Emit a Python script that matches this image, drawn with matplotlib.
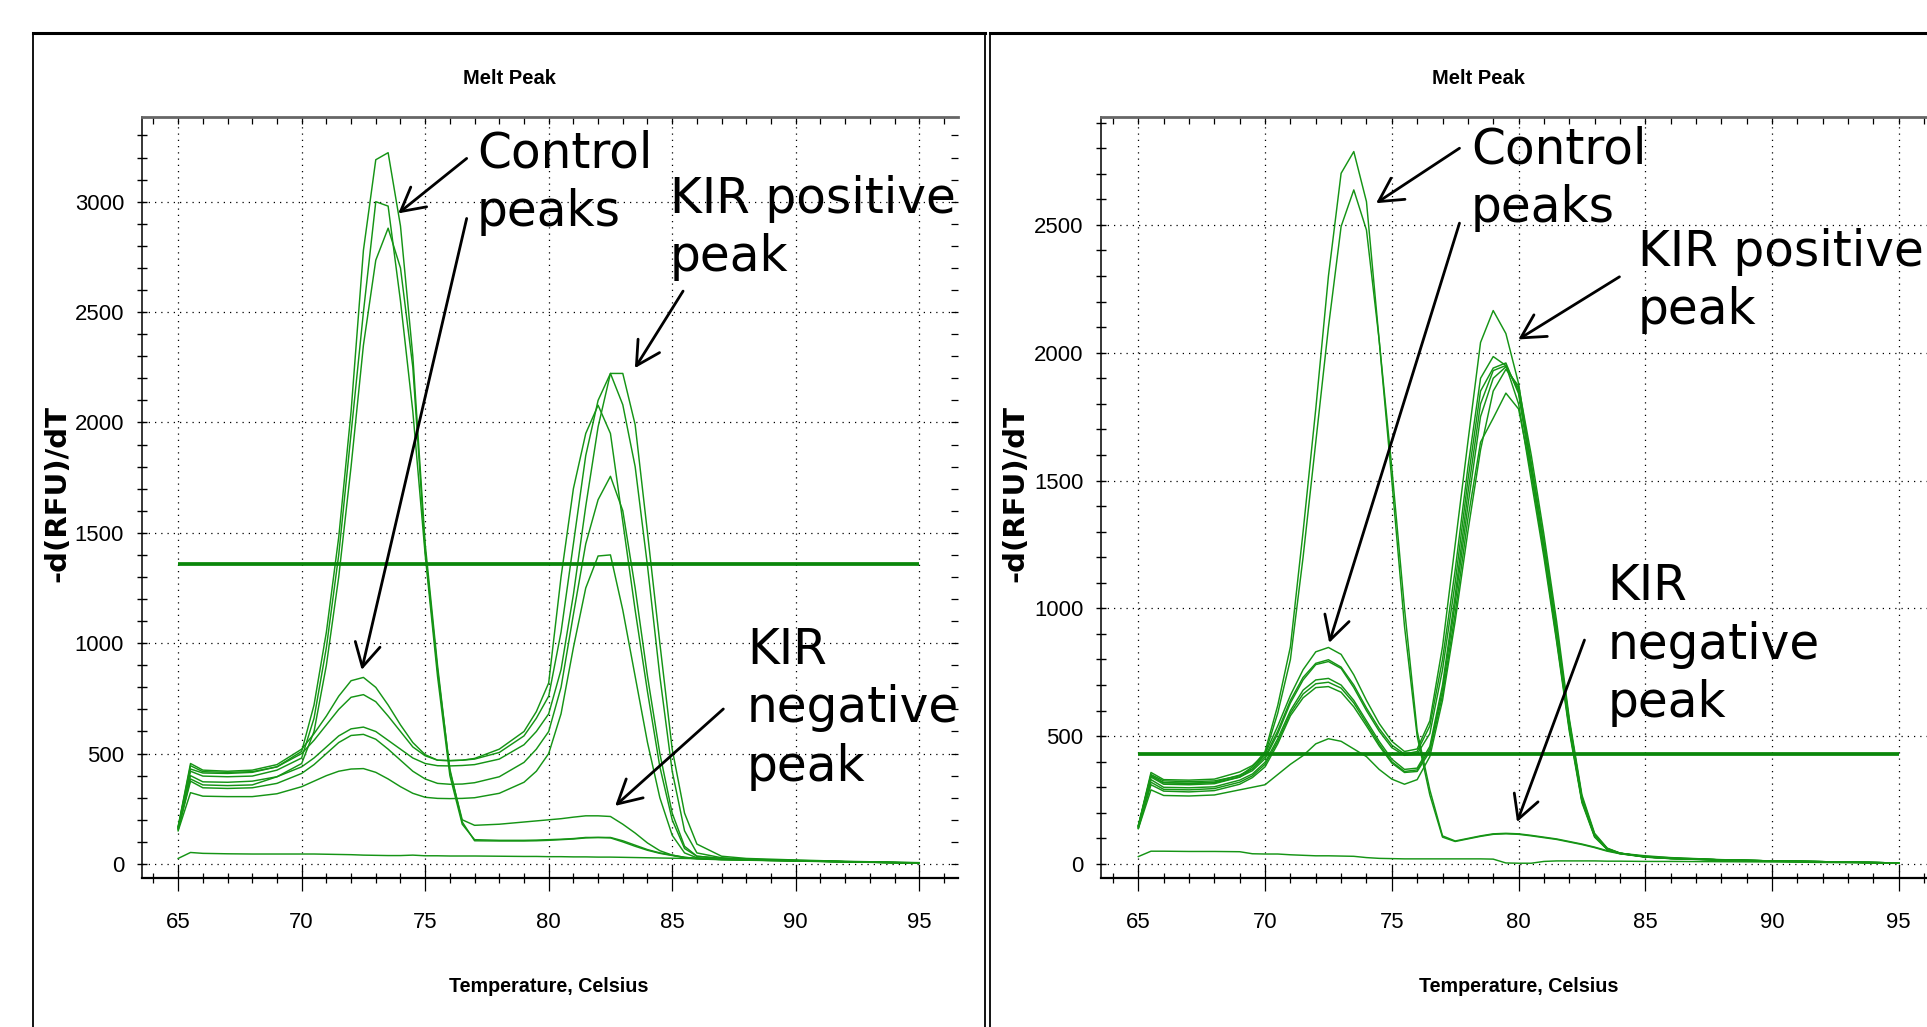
import matplotlib
matplotlib.use("Agg")
import matplotlib.pyplot as plt
from matplotlib.lines import Line2D
from matplotlib.ticker import MultipleLocator
from matplotlib import font_manager as fm

# ---------------- data ----------------
temps_left = [65.0, 65.5, 66.0, 67.0, 68.0, 69.0, 70.0, 70.5, 71.0, 71.5, 72.0, 72.5, 73.0, 73.5,
              74.0, 74.5, 75.0, 75.5, 76.0, 76.5, 77.0, 78.0, 79.0, 79.5, 80.0, 80.5, 81.0, 81.5,
              82.0, 82.5, 83.0, 83.5, 84.0, 84.5, 85.0, 85.5, 86.0, 87.0, 88.0, 90.0, 92.0, 95.0]

left_pos_1 = [170, 455, 425, 420, 425, 450, 520, 590, 670, 760, 830, 845, 800, 720, 630, 550, 495, 470, 468, 470,
              478, 520, 600, 690, 820, 1300, 1700, 1950, 2078, 1950, 1550, 1150, 780, 440, 200, 70, 35, 25, 20, 15, 10, 4]
left_pos_2 = [165, 430, 412, 410, 415, 440, 500, 560, 630, 700, 755, 767, 735, 670, 600, 530, 490, 470, 468, 470,
              475, 505, 580, 660, 760, 1050, 1450, 1850, 2100, 2222, 2080, 1800, 1350, 850, 420, 150, 50, 28, 22, 15, 10, 4]
left_pos_3 = [160, 400, 372, 370, 375, 395, 440, 480, 530, 580, 612, 620, 600, 560, 520, 480, 455, 445, 444, 446,
              450, 475, 540, 600, 680, 880, 1220, 1620, 1980, 2222, 2222, 1990, 1500, 1000, 520, 230, 90, 35, 25, 18, 12, 6]
left_pos_4 = [155, 375, 345, 342, 345, 365, 410, 450, 500, 550, 582, 587, 565, 520, 470, 420, 385, 365, 361, 362,
              368, 395, 460, 520, 600, 800, 1130, 1450, 1650, 1756, 1600, 1250, 850, 500, 230, 80, 35, 25, 20, 15, 10, 5]
left_pos_5 = [150, 323, 307, 305, 305, 318, 350, 375, 400, 420, 430, 432, 415, 385, 350, 320, 302, 297, 296, 297,
              300, 320, 370, 420, 500, 680, 980, 1250, 1395, 1400, 1150, 850, 550, 300, 130, 50, 28, 22, 18, 14, 10, 5]
left_neg_1 = [168, 445, 418, 415, 418, 440, 510, 720, 1050, 1480, 2050, 2780, 3190, 3222, 2890, 2300, 1450, 900, 420, 200,
              175, 180, 190, 195, 200, 205, 212, 218, 218, 215, 180, 140, 95, 60, 40, 30, 25, 20, 18, 14, 10, 4]
left_neg_2 = [163, 420, 398, 395, 398, 425, 480, 660, 980, 1400, 1950, 2500, 3000, 2980, 2550, 2050, 1400, 850, 400, 180,
              110, 107, 107, 108, 110, 112, 115, 120, 120, 120, 105, 85, 65, 50, 40, 30, 25, 20, 18, 14, 10, 4]
left_neg_3 = [158, 385, 358, 355, 358, 395, 455, 600, 900, 1300, 1800, 2350, 2735, 2880, 2700, 2250, 1420, 880, 430, 190,
              105, 104, 104, 105, 107, 110, 113, 118, 120, 118, 100, 80, 62, 48, 38, 28, 23, 19, 17, 13, 9, 4]
left_ntc = [25, 52, 48, 46, 45, 45, 45, 45, 44, 43, 42, 40, 39, 38, 38, 40, 37, 37, 36, 36,
            36, 35, 34, 34, 33, 33, 32, 32, 31, 31, 30, 29, 28, 27, 26, 25, 24, 22, 20, 16, 11, 3]
left_threshold = 1357

temps_right = [65.0, 65.5, 66.0, 67.0, 68.0, 69.0, 69.5, 70.0, 70.5, 71.0, 71.5, 72.0, 72.5, 73.0,
               73.5, 74.0, 74.5, 75.0, 75.5, 76.0, 76.5, 77.0, 77.5, 78.0, 78.5, 79.0, 79.5, 80.0,
               80.5, 81.0, 81.5, 82.0, 82.5, 83.0, 83.5, 84.0, 85.0, 86.0, 88.0, 90.0, 92.0, 95.0]

right_pos_1 = [150, 358, 330, 328, 332, 360, 385, 430, 540, 660, 760, 830, 847, 820, 740, 640, 550, 480, 440, 450,
               560, 850, 1250, 1650, 2040, 2165, 2075, 1880, 1560, 1260, 920, 560, 260, 115, 60, 42, 28, 22, 16, 12, 9, 4]
right_pos_2 = [148, 345, 318, 316, 320, 348, 372, 420, 520, 640, 730, 785, 799, 770, 700, 610, 530, 465, 430, 440,
               540, 800, 1150, 1550, 1900, 1985, 1950, 1800, 1500, 1200, 870, 520, 240, 105, 56, 40, 27, 21, 15, 11, 8, 4]
right_pos_3 = [146, 340, 312, 310, 314, 340, 365, 412, 510, 630, 720, 780, 792, 765, 690, 600, 520, 455, 425, 430,
               510, 760, 1100, 1500, 1850, 1940, 1960, 1840, 1530, 1220, 880, 530, 245, 108, 57, 41, 27, 21, 15, 11, 8, 4]
right_pos_4 = [144, 330, 300, 298, 302, 328, 352, 398, 490, 600, 680, 720, 726, 700, 640, 560, 480, 410, 370, 375,
               460, 700, 1050, 1450, 1800, 1930, 1950, 1850, 1550, 1240, 900, 540, 250, 110, 58, 42, 28, 22, 16, 12, 9, 4]
right_pos_5 = [142, 320, 292, 290, 295, 320, 345, 390, 480, 590, 665, 705, 711, 688, 630, 550, 470, 400, 362, 368,
               450, 680, 1020, 1400, 1750, 1900, 1945, 1860, 1570, 1260, 920, 555, 260, 115, 60, 42, 28, 22, 16, 12, 9, 4]
right_pos_6 = [140, 310, 285, 282, 287, 312, 338, 380, 470, 580, 650, 690, 694, 672, 615, 540, 462, 395, 358, 362,
               440, 660, 980, 1350, 1650, 1744, 1842, 1780, 1530, 1230, 890, 535, 250, 110, 58, 42, 28, 22, 16, 12, 9, 4]
right_pos_7 = [138, 290, 268, 266, 270, 290, 300, 310, 350, 390, 424, 470, 490, 480, 450, 420, 370, 332, 312, 330,
               420, 640, 950, 1300, 1620, 1850, 1935, 1870, 1600, 1290, 950, 570, 270, 120, 62, 43, 28, 22, 16, 12, 9, 4]
right_neg_1 = [150, 350, 325, 322, 325, 345, 380, 440, 620, 850, 1300, 1780, 2300, 2702, 2787, 2591, 2050, 1550, 1000, 520,
               290, 110, 90, 100, 110, 118, 120, 118, 112, 105, 98, 88, 78, 66, 52, 42, 32, 25, 17, 12, 9, 4]
right_neg_2 = [148, 345, 318, 315, 318, 340, 372, 430, 590, 800, 1200, 1650, 2100, 2494, 2637, 2480, 2050, 1500, 930, 500,
               270, 105, 88, 98, 108, 116, 118, 116, 110, 103, 96, 86, 76, 64, 50, 40, 30, 24, 16, 12, 9, 4]
right_ntc = [29, 50, 50, 49, 49, 48, 40, 39, 39, 36, 34, 32, 32, 31, 30, 25, 22, 21, 20, 20,
             20, 20, 20, 20, 20, 19, 4, 3, 3, 10, 12, 12, 12, 12, 11, 11, 10, 10, 9, 8, 6, 3]
right_threshold = 430

x_ticks = [65, 70, 75, 80, 85, 90, 95]
left_y_ticks = [0, 500, 1000, 1500, 2000, 2500, 3000]
right_y_ticks = [0, 500, 1000, 1500, 2000, 2500]

# ---------------- fonts ----------------
_names = {f.name for f in fm.fontManager.ttflist}
if "Liberation Sans Narrow" in _names:
    NARROW, NSCALE = "Liberation Sans Narrow", 1.0
else:
    NARROW, NSCALE = "Liberation Sans", 0.84
plt.rcParams["font.family"] = [NARROW, "DejaVu Sans"]
ANNO_FONT = ["DejaVu Sans"]

W, H = 1927, 1027
fig = plt.figure(figsize=(W / 100, H / 100), dpi=100)
fig.patch.set_facecolor("white")


def fx(x):
    return x / W


def fy(y):
    return 1 - y / H


# ---------------- panel frames ----------------
frame_lines = [
    ([33, 33], [33, H + 5], 1.3),
    ([33, 985], [33, 33], 2.2),
    ([984.5, 984.5], [33, H + 5], 1.3),
    ([989.5, 989.5], [33, H + 5], 1.3),
    ([989.5, W + 5], [33, 33], 2.2),
]
for xs, ys, lw in frame_lines:
    fig.add_artist(Line2D([fx(v) for v in xs], [fy(v) for v in ys], transform=fig.transFigure,
                          color="black", lw=lw))

TRACE_COLOR = "#159415"
THR_COLOR = "#0a860a"
TITLE_SIZE = 17 if NSCALE == 1.0 else 14.5
XLABEL_SIZE = 17 if NSCALE == 1.0 else 14.2
TICK_SIZE = 19 * NSCALE


def make_panel(rect, temps, traces, ntc, thr, yticks, ylim, title_x, xlabel_x, ylabel_x):
    ax = fig.add_axes(rect)
    ax.set_xlim(63.52, 96.57)
    ax.set_ylim(*ylim)
    ax.set_xticks(x_ticks)
    ax.xaxis.set_minor_locator(MultipleLocator(1))
    ax.set_yticks(yticks)
    ax.yaxis.set_minor_locator(MultipleLocator(100))
    ax.grid(True, which="major", color="black", linestyle=(0, (1, 4)), lw=0.9)
    ax.set_axisbelow(True)
    ax.spines["right"].set_visible(False)
    ax.spines["top"].set_color("#666666")
    ax.spines["top"].set_linewidth(2.0)
    ax.spines["bottom"].set_linewidth(1.6)
    ax.spines["left"].set_linewidth(1.1)
    ax.tick_params(axis="y", which="both", direction="inout", length=7, width=1.0,
                   pad=9, labelsize=TICK_SIZE, left=True, right=False)
    ax.tick_params(axis="x", which="major", direction="inout", length=19, width=0.9,
                   pad=14.5, labelsize=TICK_SIZE, bottom=True, top=False)
    ax.tick_params(axis="x", which="minor", direction="inout", length=7, width=0.9,
                   bottom=True, top=False)
    secx = ax.secondary_xaxis("top")
    secx.set_xticks([])
    secx.xaxis.set_minor_locator(MultipleLocator(1))
    secx.tick_params(which="minor", direction="in", length=5, width=0.9)
    secx.spines["top"].set_visible(False)
    secy = ax.secondary_yaxis("right")
    secy.set_yticks([])
    secy.yaxis.set_minor_locator(MultipleLocator(100))
    secy.tick_params(which="minor", direction="in", length=5, width=0.9)
    secy.spines["right"].set_visible(False)

    for vals in traces:
        ax.plot(temps, vals, color=TRACE_COLOR, lw=1.05, zorder=3)
    ax.plot(temps, ntc, color=TRACE_COLOR, lw=1.05, zorder=3)
    ax.hlines(thr, 65, 95, color=THR_COLOR, lw=2.7, zorder=4)

    fig.text(fx(title_x), fy(78), "Melt Peak", ha="center", va="center",
             fontsize=TITLE_SIZE, fontweight="bold")
    fig.text(fx(xlabel_x), fy(986), "Temperature, Celsius", ha="center", va="center",
             fontsize=XLABEL_SIZE, fontweight="bold")
    fig.text(fx(ylabel_x), fy(493), "-d(RFU)/dT", ha="center", va="center", rotation=90,
             fontsize=21, fontweight="bold", family=["DejaVu Sans"])
    return ax


axL = make_panel([fx(141.6), fy(878.3), (958 - 141.6) / W, (878.3 - 116.7) / H],
                 temps_left,
                 [left_pos_1, left_pos_2, left_pos_3, left_pos_4, left_pos_5,
                  left_neg_1, left_neg_2, left_neg_3],
                 left_ntc, left_threshold, left_y_ticks, (-65, 3385), 509.6, 549, 57.5)
axR = make_panel([fx(1100.8), fy(878.3), (1938.6 - 1100.8) / W, (878.3 - 117.3) / H],
                 temps_right,
                 [right_pos_1, right_pos_2, right_pos_3, right_pos_4, right_pos_5,
                  right_pos_6, right_pos_7, right_neg_1, right_neg_2],
                 right_ntc, right_threshold, right_y_ticks, (-56, 2921), 1478, 1519, 1015)

# ---------------- annotations ----------------
ARROW = dict(arrowstyle="->,head_length=0.7,head_width=0.38", color="black", lw=2.0,
             shrinkA=0, shrinkB=0, mutation_scale=24)


def label(ax, x, y_last_baseline, s):
    ax.text(x, y_last_baseline, s, fontsize=35, family=ANNO_FONT, ha="left", va="baseline",
            linespacing=1.27, clip_on=False, zorder=6)


def arrow(ax, start, tip):
    ax.annotate("", xy=tip, xytext=start, arrowprops=ARROW, annotation_clip=False, zorder=6)


label(axL, 77.10, 2889, "Control\npeaks")
label(axL, 84.91, 2686, "KIR positive\npeak")
label(axL, 88.03, 378, "KIR\nnegative\npeak")
arrow(axL, (76.68, 3196), (73.91, 2947))
arrow(axL, (76.68, 2924), (72.43, 879))
arrow(axL, (85.44, 2595), (83.49, 2246))
arrow(axL, (87.07, 702), (82.69, 263))

label(axR, 78.12, 2512, "Control\npeaks")
label(axR, 84.71, 2113, "KIR positive\npeak")
label(axR, 83.51, 575, "KIR\nnegative\npeak")
arrow(axR, (77.67, 2800), (74.38, 2585))
arrow(axR, (77.67, 2507), (72.53, 865))
arrow(axR, (83.98, 2297), (79.99, 2052))
arrow(axR, (82.60, 876), (79.94, 164))

fig.savefig("out.png", dpi=100, facecolor="white")
